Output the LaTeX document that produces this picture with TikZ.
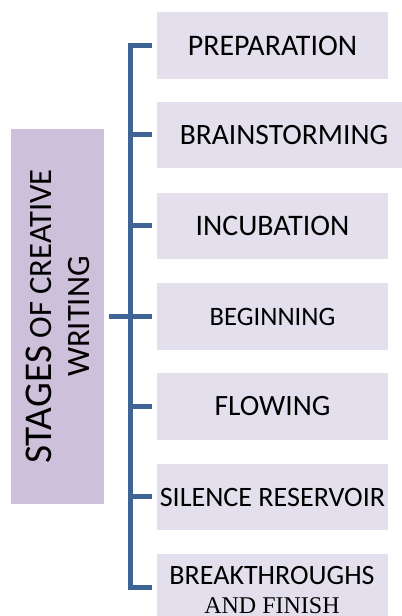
\documentclass[tikz,border=0pt]{standalone}
\usepackage{fontspec}
\setmainfont{Carlito}
\newfontfamily\tnr{Liberation Serif}
\definecolor{lefbox}{HTML}{CCC0DA}
\definecolor{rtbox}{HTML}{E4DFEC}
\definecolor{spinec}{HTML}{3E6496}
\begin{document}
\begin{tikzpicture}[x=1bp,y=1bp,
  stagebox/.style={fill=rtbox, draw=none, inner sep=0pt, minimum width=231bp, minimum height=66.5bp, text=black},
  conn/.style={draw=spinec, line width=5bp, line join=miter, line cap=butt},
  fs/.style={font=\fontsize{#1bp}{#1bp}\selectfont}
]
\useasboundingbox (0,0) rectangle (401,616);
% left box
\node[fill=lefbox, draw=none, rotate=90, minimum width=375bp, minimum height=93bp, inner sep=0pt,
      align=center, font=\fontsize{32.6bp}{38bp}\selectfont] (stages) at (57.5,299.5)
  {{\fontsize{39.3bp}{38bp}\selectfont STAGES} OF CREATIVE\\WRITING};
% right boxes
\node[stagebox, fs=29.9] (b1) at (272.5,570.5) {PREPARATION};
\node[stagebox, fs=29.5, minimum width=254bp] (b2) at (284,481) {BRAINSTORMING};
\node[stagebox, fs=29.8] (b3) at (272.5,390) {INCUBATION};
\node[stagebox, fs=26.6] (b4) at (272.5,299.5) {BEGINNING};
\node[stagebox, fs=29.5] (b5) at (272.5,209.5) {FLOWING};
\node[stagebox, fs=28.1] (b6) at (272.5,119) {SILENCE RESERVOIR};
\node[stagebox] (b7) at (272.5,28.5) {};
\node[align=center, inner sep=0pt, font=\fontsize{28bp}{29bp}\selectfont] (b7t) at (272,26)
  {BREAKTHROUGHS\\{\tnr\fontsize{24bp}{29bp}\selectfont AND FINISH}};
% spine
\coordinate (sp) at (130.5,299.5);
\draw[conn] ([xshift=-5bp]b1.west) -- (b1.west -| sp) -- (b7.west -| sp) -- ([xshift=-5bp]b7.west);
\foreach \b in {b2,b3,b4,b5,b6}
  \draw[conn] (\b.west -| sp) -- ([xshift=-5bp]\b.west);
\draw[conn] ([xshift=5bp]stages.south) -- (stages.south -| sp);
\end{tikzpicture}
\end{document}
